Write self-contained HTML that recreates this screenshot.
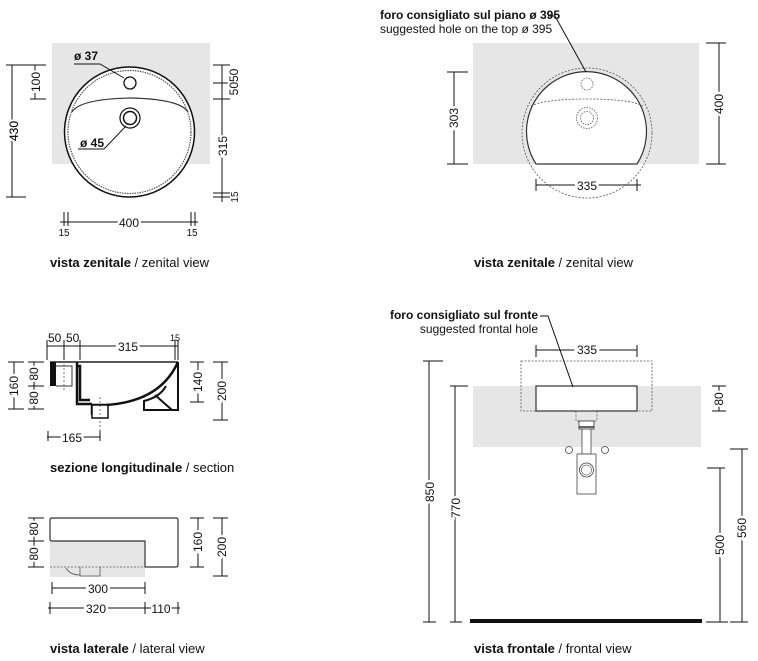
<!DOCTYPE html>
<html><head><meta charset="utf-8"><style>
body{margin:0;background:#fff;}
svg{display:block;font-family:"Liberation Sans",sans-serif;}
.d{stroke:#111;stroke-width:1;fill:none}
.t{font-size:12px;fill:#111}
.c{font-size:13px;fill:#111}
</style></head><body>
<svg width="758" height="661" viewBox="0 0 758 661" xmlns="http://www.w3.org/2000/svg">
<!-- ===== Top-left zenital ===== -->
<rect x="52" y="43" width="158" height="121" fill="#e6e6e6"/>
<circle cx="129.5" cy="132" r="65" fill="#fff" stroke="#111" stroke-width="1.5"/>
<circle cx="129.5" cy="132" r="61.5" fill="none" stroke="#555" stroke-width="1.2" stroke-dasharray="1.5 1"/>
<path d="M72 112 Q80 99 130 98 Q180 99 188 112" fill="none" stroke="#333" stroke-width="1.2"/>
<circle cx="130" cy="83" r="6" fill="#fff" stroke="#111" stroke-width="1.3"/>
<circle cx="130" cy="118" r="10" fill="#fff" stroke="#111" stroke-width="1.2"/>
<circle cx="130" cy="118" r="6.5" fill="#fff" stroke="#111" stroke-width="1.5"/>
<path class="d" d="M74 64 L100 64 L124 78" stroke="#555" stroke-width=".7"/>
<path class="d" d="M78 149 L104 149 L126 126" stroke="#555" stroke-width=".7"/>
<text x="74" y="60" class="t" font-weight="bold">ø 37</text>
<text x="80" y="147" class="t" font-weight="bold">ø 45</text>
<!-- dims left -->
<path class="d" d="M12 65 V197 M6 65 H46 M6 197 H26 M35 65 V99 M30 65 H46 M30 99 H46"/>
<text transform="translate(18,131) rotate(-90)" text-anchor="middle" class="t" fill="#fff" style="paint-order:stroke" stroke="#fff" stroke-width="4">430</text>
<text transform="translate(18,131) rotate(-90)" text-anchor="middle" class="t">430</text>
<text transform="translate(40,82) rotate(-90)" text-anchor="middle" class="t" stroke="#fff" stroke-width="4" style="paint-order:stroke">100</text>
<!-- dims right -->
<path class="d" d="M222 65 V202 M213 65 H230 M213 83 H230 M213 99 H230 M213 193 H230 M213 197 H230"/>
<text transform="translate(238,82) rotate(-90)" text-anchor="middle" class="t" stroke="#fff" stroke-width="4" style="paint-order:stroke">5050</text>
<text transform="translate(227,146) rotate(-90)" text-anchor="middle" class="t" stroke="#fff" stroke-width="4" style="paint-order:stroke">315</text>
<text transform="translate(238,197) rotate(-90)" text-anchor="middle" font-size="10" fill="#111">15</text>
<!-- dims bottom -->
<path class="d" d="M60 222 H198 M64 212 V226 M68 212 V226 M191 212 V226 M195 212 V226"/>
<text x="129" y="227" text-anchor="middle" class="t" stroke="#fff" stroke-width="5" style="paint-order:stroke">400</text>
<text x="64" y="236" text-anchor="middle" font-size="10" fill="#111">15</text>
<text x="192" y="236" text-anchor="middle" font-size="10" fill="#111">15</text>
<text x="50" y="267" class="c"><tspan font-weight="bold">vista zenitale</tspan> / zenital view</text>

<!-- ===== Top-right zenital ===== -->
<rect x="473" y="43" width="226" height="121" fill="#e6e6e6"/>
<path d="M536 164 A60 60 0 1 1 637 164 Z" fill="#fff" stroke="#333" stroke-width="1.2"/>
<circle cx="587" cy="133" r="65" fill="none" stroke="#555" stroke-width=".8" stroke-dasharray="2 1.5"/>
<path d="M531 106 Q545 99 587 99 Q630 99 643 106" fill="none" stroke="#555" stroke-width=".8" stroke-dasharray="2 1.5"/>
<circle cx="587" cy="84" r="6" fill="none" stroke="#555" stroke-width=".8" stroke-dasharray="1.5 1.2"/>
<circle cx="587" cy="118" r="10.5" fill="none" stroke="#555" stroke-width=".8" stroke-dasharray="1.5 1.2"/>
<circle cx="587" cy="118" r="6.5" fill="none" stroke="#555" stroke-width=".8" stroke-dasharray="1.5 1.2"/>
<path class="d" d="M548 16 L555 16 L586 72" stroke="#555" stroke-width=".7"/>
<text x="380" y="19" class="t" font-size="11.5" font-weight="bold">foro consigliato sul piano ø 395</text>
<text x="380" y="33" class="t" font-size="11.5">suggested hole on the top ø 395</text>
<path class="d" d="M454 72 V164 M447 72 H468 M447 164 H468"/>
<text transform="translate(458,118) rotate(-90)" text-anchor="middle" class="t" stroke="#fff" stroke-width="5" style="paint-order:stroke">303</text>
<path class="d" d="M719 43 V164 M706 43 H726 M706 164 H726"/>
<text transform="translate(723,104) rotate(-90)" text-anchor="middle" class="t" stroke="#fff" stroke-width="5" style="paint-order:stroke">400</text>
<path class="d" d="M536 185 H641 M536 179 V191 M637 179 V191"/>
<text x="587" y="190" text-anchor="middle" class="t" stroke="#fff" stroke-width="5" style="paint-order:stroke">335</text>
<text x="474" y="267" class="c"><tspan font-weight="bold">vista zenitale</tspan> / zenital view</text>

<!-- ===== Section ===== -->
<path class="d" d="M47 346 H178 M47 340 V360 M64 340 V360 M80 340 V360 M175 340 V360 M178 340 V360"/>
<text x="48" y="342" class="t">50</text><text x="66" y="342" class="t">50</text>
<text x="128" y="351" text-anchor="middle" class="t" stroke="#fff" stroke-width="5" style="paint-order:stroke">315</text>
<text x="170" y="341" font-size="9" fill="#111">15</text>
<path d="M50 362 H178" stroke="#222" stroke-width="1.5"/>
<path d="M50 362 H56 V386 H50 Z" fill="#111"/>
<path d="M56 366 H72 V386 H56" fill="#fff" stroke="#333" stroke-width="1"/>
<path d="M77 362 V366 H80 V400 H90 M77 366 V404 H92" fill="none" stroke="#111" stroke-width="2.5"/>
<path d="M178 362 Q160 402 105 405 H92 V415" fill="none" stroke="#111" stroke-width="2.5"/>
<path d="M92 405 H108 V418 H92 Z" fill="#fff" stroke="#111" stroke-width="1.5"/>
<path d="M178 362 V410 H144 V401 Q160 397 166 386" fill="none" stroke="#111" stroke-width="2"/>
<path d="M155 395 L172 410" stroke="#111" stroke-width="2"/>
<path d="M64 364 V392 M100 397 V440" stroke="#444" stroke-dasharray="2 2" stroke-width=".7"/>
<path class="d" d="M14 362 V409 M8 362 H24 M8 409 H24 M34 362 V409 M28 362 H44 M28 386 H44 M28 409 H44"/>
<text transform="translate(18,386) rotate(-90)" text-anchor="middle" class="t" stroke="#fff" stroke-width="5" style="paint-order:stroke">160</text>
<text transform="translate(38,374) rotate(-90)" text-anchor="middle" class="t" stroke="#fff" stroke-width="4" style="paint-order:stroke">80</text>
<text transform="translate(38,398) rotate(-90)" text-anchor="middle" class="t" stroke="#fff" stroke-width="4" style="paint-order:stroke">80</text>
<path class="d" d="M198 362 V402 M190 362 H204 M190 402 H204 M222 362 V420 M213 362 H228 M213 420 H228"/>
<text transform="translate(202,382) rotate(-90)" text-anchor="middle" class="t" stroke="#fff" stroke-width="5" style="paint-order:stroke">140</text>
<text transform="translate(226,391) rotate(-90)" text-anchor="middle" class="t" stroke="#fff" stroke-width="5" style="paint-order:stroke">200</text>
<path class="d" d="M47 437 H100 M48 431 V441 M100 431 V441"/>
<text x="72" y="442" text-anchor="middle" class="t" stroke="#fff" stroke-width="5" style="paint-order:stroke">165</text>
<text x="50" y="472" class="c"><tspan font-weight="bold">sezione longitudinale</tspan> / section</text>

<!-- ===== Lateral ===== -->
<rect x="50" y="541" width="95" height="36" fill="#e6e6e6"/>
<path d="M52 518 H176 Q178 518 178 520 V565 Q178 567 176 567 H145 V541 H52 Q50 541 50 539 V520 Q50 518 52 518 Z" fill="#fff" stroke="#333" stroke-width="1.2"/>
<path d="M50 567 H145" stroke="#555" stroke-dasharray="2 1.5" stroke-width=".8"/>
<path d="M66 568 Q70 575 80 575 V567 M80 567 V576 H100 V567" fill="none" stroke="#555" stroke-width=".8"/>
<path class="d" d="M34 518 V567 M28 518 H44 M28 541 H44 M28 567 H44"/>
<text transform="translate(38,529) rotate(-90)" text-anchor="middle" class="t" stroke="#fff" stroke-width="4" style="paint-order:stroke">80</text>
<text transform="translate(38,554) rotate(-90)" text-anchor="middle" class="t" stroke="#fff" stroke-width="4" style="paint-order:stroke">80</text>
<path class="d" d="M198 518 V567 M190 518 H204 M190 567 H204 M222 518 V576 M213 518 H228 M213 576 H228"/>
<text transform="translate(202,542) rotate(-90)" text-anchor="middle" class="t" stroke="#fff" stroke-width="5" style="paint-order:stroke">160</text>
<text transform="translate(226,547) rotate(-90)" text-anchor="middle" class="t" stroke="#fff" stroke-width="5" style="paint-order:stroke">200</text>
<path class="d" d="M52 588 H145 M52 582 V594 M145 582 V594"/>
<text x="98" y="593" text-anchor="middle" class="t" stroke="#fff" stroke-width="5" style="paint-order:stroke">300</text>
<path class="d" d="M48 608 H180 M50 602 V614 M145 602 V614 M178 602 V614"/>
<text x="96" y="613" text-anchor="middle" class="t" stroke="#fff" stroke-width="5" style="paint-order:stroke">320</text>
<text x="161" y="613" text-anchor="middle" class="t" stroke="#fff" stroke-width="3" style="paint-order:stroke">110</text>
<text x="50" y="653" class="c"><tspan font-weight="bold">vista laterale</tspan> / lateral view</text>

<!-- ===== Frontal ===== -->
<rect x="473" y="386" width="228" height="61" fill="#e6e6e6"/>
<rect x="521" y="361" width="131" height="50" fill="none" stroke="#555" stroke-width=".8" stroke-dasharray="2 1.5"/>
<rect x="536" y="386" width="101" height="25" fill="#fff" stroke="#333" stroke-width="1.2"/>
<rect x="576" y="411" width="21" height="10" fill="none" stroke="#555" stroke-width=".7" stroke-dasharray="2 1.5"/>
<rect x="579" y="421" width="15" height="8" fill="#fff" stroke="#333" stroke-width=".8"/>
<path d="M579 427 H594" stroke="#333" stroke-width="1.5"/>
<rect x="582" y="429" width="9" height="25" fill="#fff" stroke="#444" stroke-width=".8"/>
<rect x="577" y="454" width="19" height="40" fill="#fff" stroke="#444" stroke-width=".8"/>
<circle cx="586.5" cy="470" r="7" fill="none" stroke="#444" stroke-width=".8"/>
<circle cx="586.5" cy="470" r="5" fill="none" stroke="#444" stroke-width=".6"/>
<circle cx="569" cy="450" r="3.5" fill="#fff" stroke="#444" stroke-width=".8"/>
<circle cx="605" cy="450" r="3.5" fill="#fff" stroke="#444" stroke-width=".8"/>
<rect x="470" y="619" width="232" height="4" fill="#111"/>
<path class="d" d="M540 316 L548 316 L573 387" stroke="#555" stroke-width=".7"/>
<text x="538" y="319" text-anchor="end" class="t" font-size="11" font-weight="bold">foro consigliato sul fronte</text>
<text x="538" y="333" text-anchor="end" class="t" font-size="11">suggested frontal hole</text>
<path class="d" d="M536 350 H637 M536 345 V357 M637 345 V357"/>
<text x="587" y="354" text-anchor="middle" class="t" stroke="#fff" stroke-width="6" style="paint-order:stroke">335</text>
<path class="d" d="M429 361 V622 M423 361 H443 M423 622 H436 M455 386 V622 M450 386 H468 M450 622 H462"/>
<text transform="translate(434,492) rotate(-90)" text-anchor="middle" class="t" stroke="#fff" stroke-width="5" style="paint-order:stroke">850</text>
<text transform="translate(460,508) rotate(-90)" text-anchor="middle" class="t" stroke="#fff" stroke-width="5" style="paint-order:stroke">770</text>
<path class="d" d="M719 386 V411 M712 386 H726 M712 411 H726"/>
<text transform="translate(723,399) rotate(-90)" text-anchor="middle" class="t" stroke="#fff" stroke-width="4" style="paint-order:stroke">80</text>
<path class="d" d="M720 468 V622 M707 468 H725 M706 622 H728 M742 449 V622 M730 449 H748 M730 622 H748"/>
<text transform="translate(724,545) rotate(-90)" text-anchor="middle" class="t" stroke="#fff" stroke-width="5" style="paint-order:stroke">500</text>
<text transform="translate(746,528) rotate(-90)" text-anchor="middle" class="t" stroke="#fff" stroke-width="5" style="paint-order:stroke">560</text>
<text x="474" y="653" class="c"><tspan font-weight="bold">vista frontale</tspan> / frontal view</text>
</svg>
</body></html>
